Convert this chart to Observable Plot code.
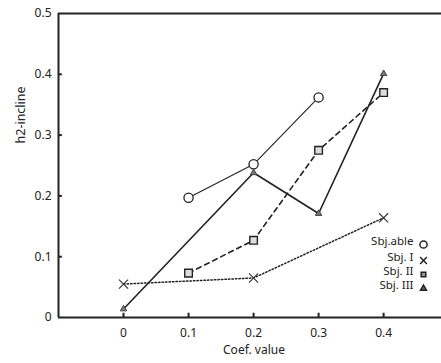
<!DOCTYPE html>
<html>
<head>
<meta charset="utf-8">
<script src="https://cdn.jsdelivr.net/npm/d3@7"></script>
<script src="https://cdn.jsdelivr.net/npm/@observablehq/plot@0.6"></script>
<style>
  body { margin: 0; background: #fff; }
  #chart svg { display: block; }
</style>
</head>
<body>
<div id="chart"></div>
<script>
// ---- data ----
const seriesNames = ["Sbj.able", "Sbj. I", "Sbj. II", "Sbj. III"];
const ableX = [0.1, 0.2, 0.3];
const ableY = [0.197, 0.252, 0.362];
const s1X = [0, 0.2, 0.4];
const s1Y = [0.055, 0.065, 0.164];
const s2X = [0.1, 0.2, 0.3, 0.4];
const s2Y = [0.073, 0.127, 0.275, 0.370];
const s3X = [0, 0.2, 0.3, 0.4];
const s3Y = [0.014, 0.238, 0.171, 0.401];
const xTicks = [0, 0.1, 0.2, 0.3, 0.4];
const yTicks = [0, 0.1, 0.2, 0.3, 0.4, 0.5];

const toRows = (xs, ys) => xs.map((x, i) => ({x, y: ys[i]}));
const able = toRows(ableX, ableY);
const s1 = toRows(s1X, s1Y);
const s2 = toRows(s2X, s2Y);
const s3 = toRows(s3X, s3Y);

const font = "'Noto Sans', 'Open Sans', sans-serif";
const legendSymbols = ["circle", "times", "square", "triangle"];
const legendFill = ["none", "none", "#999", "#666"];
const legendR = [3.6, 3.2, 2.6, 2.2];
const legendDy = [-73, -57, -43, -29];

const legendMarks = seriesNames.flatMap((name, i) => [
  Plot.text([name], {frameAnchor: "bottom-right", dx: -28, dy: legendDy[i], textAnchor: "end", fontSize: 11.5, fill: "#222"}),
  Plot.dot([name], {frameAnchor: "bottom-right", dx: -18, dy: legendDy[i], symbol: legendSymbols[i], r: legendR[i], stroke: "#222", strokeWidth: 1.5, fill: legendFill[i]})
]);

const plot = Plot.plot({
  width: 441,
  height: 363,
  marginLeft: 58,
  marginRight: 0,
  marginTop: 13,
  marginBottom: 46,
  style: {fontFamily: font, fontSize: "12px", color: "#222", background: "#fff"},
  x: {domain: [-0.1, 0.489]},
  y: {domain: [0, 0.5]},
  marks: [
    // frame lines
    Plot.ruleY([0, 0.5], {stroke: "#222", strokeWidth: 2}),
    Plot.ruleX([-0.1], {stroke: "#222", strokeWidth: 2}),
    // inward ticks
    Plot.ruleX(xTicks, {y1: 0, y2: 0.007, stroke: "#222", strokeWidth: 2}),
    Plot.ruleY(yTicks.slice(1, -1), {x1: -0.1, x2: -0.094, stroke: "#222", strokeWidth: 2}),
    Plot.axisX({ticks: xTicks, tickSize: 0, tickPadding: 11, tickFormat: d => d3.format("")(d), label: null}),
    Plot.axisY({ticks: yTicks, tickSize: 0, tickPadding: 7, tickFormat: d => d3.format("")(d), label: null}),
    Plot.text(["Coef. value"], {frameAnchor: "bottom", dy: 36, dx: 4, fontSize: 12, fill: "#222"}),
    Plot.text(["h2-incline"], {frameAnchor: "left", dx: -38, dy: -22, rotate: -90, fontSize: 12.5, fill: "#222"}),
    // lines
    Plot.line(s1, {x: "x", y: "y", stroke: "#222", strokeWidth: 1.5, strokeDasharray: "1.5,2"}),
    Plot.line(s2, {x: "x", y: "y", stroke: "#222", strokeWidth: 1.6, strokeDasharray: "5,4"}),
    Plot.line(s3, {x: "x", y: "y", stroke: "#222", strokeWidth: 1.6}),
    Plot.line(able, {x: "x", y: "y", stroke: "#222", strokeWidth: 1.1}),
    // markers
    Plot.dot(able, {x: "x", y: "y", r: 4.6, stroke: "#222", strokeWidth: 1.3, fill: "#fff"}),
    Plot.dot(s1, {x: "x", y: "y", symbol: "times", r: 4.2, stroke: "#333", strokeWidth: 1.1}),
    Plot.dot(s2, {x: "x", y: "y", symbol: "square", r: 4.3, stroke: "#222", strokeWidth: 1.4, fill: "#ddd"}),
    Plot.dot(s3, {x: "x", y: "y", symbol: "triangle", r: 2.4, stroke: "#444", strokeWidth: 1, fill: "#777"}),
    // legend
    ...legendMarks
  ]
});
document.getElementById("chart").appendChild(plot);
</script>
</body>
</html>
